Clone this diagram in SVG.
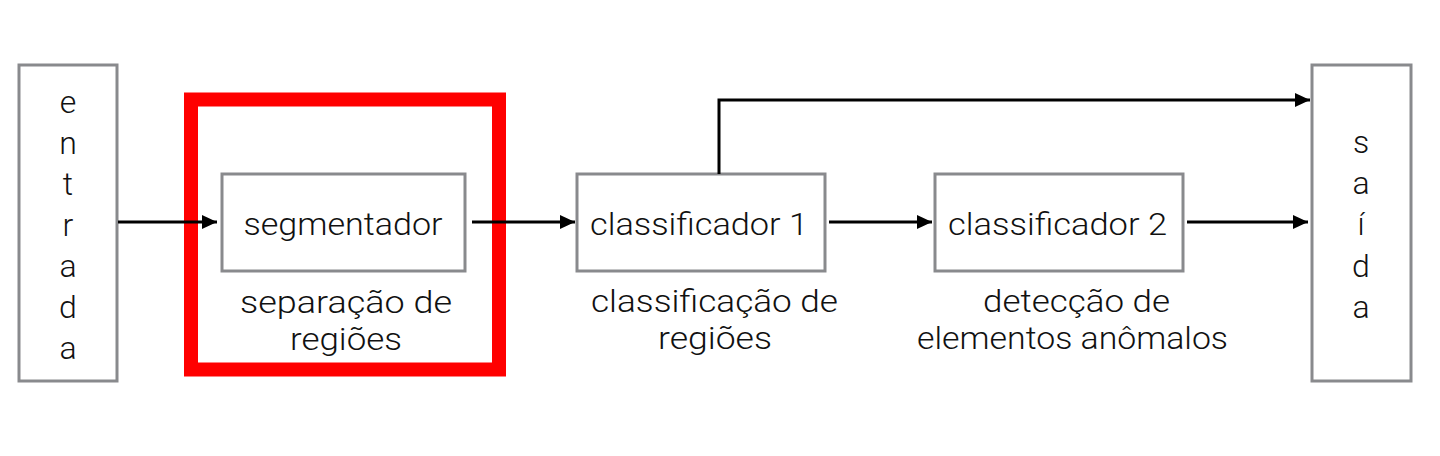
<svg xmlns="http://www.w3.org/2000/svg" width="1440" height="456" viewBox="0 0 1440 456">
<style>
.box{fill:#fff;stroke:#898a8d;stroke-width:3}
.t{font-family:Roboto,"Liberation Sans",Arial,sans-serif;font-weight:300;font-size:32px;fill:#111;text-anchor:middle}
.c{fill:none;stroke:#000;stroke-width:3}
</style>
<defs>
<marker id="ah" markerUnits="userSpaceOnUse" markerWidth="16" markerHeight="16" refX="15" refY="7" orient="auto">
<path d="M0,0 L15,7 L0,14 Z" fill="#000"/>
</marker>
</defs>
<rect width="1440" height="456" fill="#fff"/>
<g id="entrada">
<rect class="box" x="19" y="65" width="98" height="316"/>
<text class="t" x="68" y="113">e</text>
<text class="t" x="68" y="154">n</text>
<text class="t" x="68" y="195">t</text>
<text class="t" x="68" y="236">r</text>
<text class="t" x="68" y="277">a</text>
<text class="t" x="68" y="318">d</text>
<text class="t" x="68" y="359">a</text>
</g>
<g id="destaque">
<rect x="191" y="99.5" width="308" height="270" fill="none" stroke="#ff0000" stroke-width="14"/>
</g>
<g id="segmentador">
<rect class="box" x="222" y="174" width="243" height="97"/>
<text class="t" x="343" y="235" textLength="199" lengthAdjust="spacingAndGlyphs">segmentador</text>
<text class="t" x="346" y="313" textLength="212" lengthAdjust="spacingAndGlyphs">separação de</text>
<text class="t" x="346" y="350" textLength="112" lengthAdjust="spacingAndGlyphs">regiões</text>
</g>
<g id="classificador1">
<rect class="box" x="577" y="174" width="248" height="97"/>
<text class="t" x="699" y="235" textLength="218" lengthAdjust="spacingAndGlyphs">classificador 1</text>
<text class="t" x="714.5" y="312" textLength="247" lengthAdjust="spacingAndGlyphs">classificação de</text>
<text class="t" x="715" y="349" textLength="114" lengthAdjust="spacingAndGlyphs">regiões</text>
</g>
<g id="classificador2">
<rect class="box" x="935" y="174" width="248" height="97"/>
<text class="t" x="1057.5" y="235" textLength="219" lengthAdjust="spacingAndGlyphs">classificador 2</text>
<text class="t" x="1076.5" y="312" textLength="187" lengthAdjust="spacingAndGlyphs">detecção de</text>
<text class="t" x="1072.5" y="349" textLength="311" lengthAdjust="spacingAndGlyphs">elementos anômalos</text>
</g>
<g id="saida">
<rect class="box" x="1312" y="65" width="99" height="316"/>
<text class="t" x="1361" y="153">s</text>
<text class="t" x="1361" y="194">a</text>
<text class="t" x="1361" y="235">í</text>
<text class="t" x="1361" y="277">d</text>
<text class="t" x="1361" y="318">a</text>
</g>
<g id="conectores">
<line class="c" x1="118" y1="222" x2="217" y2="222" marker-end="url(#ah)"/>
<line class="c" x1="472" y1="222" x2="575" y2="222" marker-end="url(#ah)"/>
<line class="c" x1="829" y1="222" x2="932" y2="222" marker-end="url(#ah)"/>
<line class="c" x1="1187" y1="222" x2="1308" y2="222" marker-end="url(#ah)"/>
<path class="c" d="M719,174 V100 H1310" marker-end="url(#ah)"/>
</g>
</svg>
